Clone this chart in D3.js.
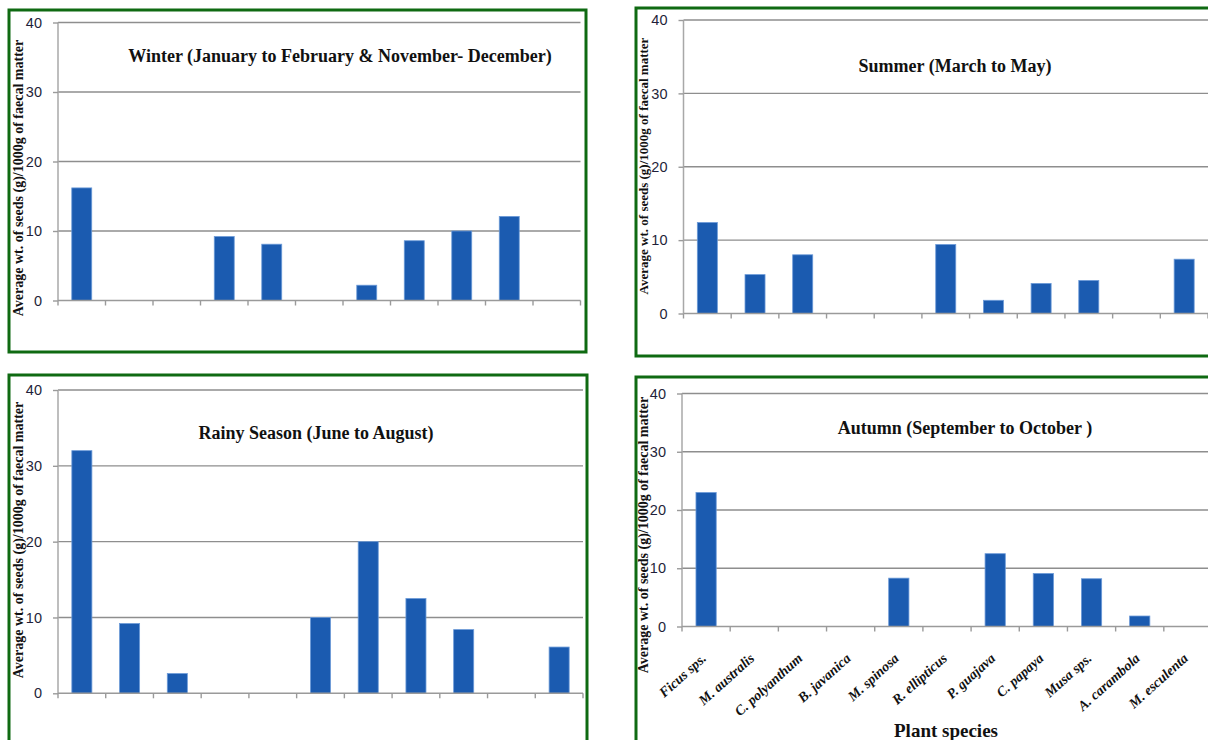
<!DOCTYPE html>
<html>
<head>
<meta charset="utf-8">
<script src="https://cdn.jsdelivr.net/npm/d3@7"></script>
<style>
  html, body { margin: 0; padding: 0; background: #ffffff; }
  svg { display: block; }
</style>
</head>
<body>
<svg id="chart" width="1208" height="740"></svg>
<script>
// Plant species (x categories, shared by all four seasonal panels)
const species = ["Ficus sps.", "M. australis", "C. polyanthum", "B. javanica", "M. spinosa",
  "R. ellipticus", "P. guajava", "C. papaya", "Musa sps.", "A. carambola", "M. esculenta"];

// Average wt. of seeds (g)/1000 g of faecal matter, per season
const winterValues = [16.2, 0, 0, 9.2, 8.1, 0, 2.2, 8.6, 10.0, 12.1, 0];
const summerValues = [12.4, 5.3, 8.0, 0, 0, 9.4, 1.8, 4.1, 4.5, 0, 7.4];
const rainyValues  = [32.0, 9.2, 2.6, 0, 0, 10.0, 20.0, 12.5, 8.4, 0, 6.1];
const autumnValues = [23.0, 0, 0, 0, 8.3, 0, 12.5, 9.1, 8.2, 1.8, 0];

const yTickValues = [0, 10, 20, 30, 40];

const seasonTitles = [
  "Winter (January to February & November- December)",
  "Summer (March to May)",
  "Rainy Season (June to August)",
  "Autumn (September to October )"
];
const yAxisTitle = "Average wt. of seeds (g)/1000g of faecal matter";
const xAxisTitle = "Plant species";

// Panel layout: frame box, plot box, title placement
const panels = [
  { values: winterValues, title: seasonTitles[0],
    frame: [9, 10, 577, 342], plot: { x0: 58, x1: 580.5, yTop: 22.5, yZero: 300.5 },
    titleX: 340, titleY: 62, yLabelX: 23, yLabelY: 178, yLabelSize: 14, showCats: false },
  { values: summerValues, title: seasonTitles[1],
    frame: [636, 8, 600, 348], plot: { x0: 683.5, x1: 1208, yTop: 20, yZero: 313.5 },
    titleX: 955, titleY: 72, yLabelX: 648, yLabelY: 166, yLabelSize: 13, showCats: false },
  { values: rainyValues, title: seasonTitles[2],
    frame: [9, 375, 578, 400], plot: { x0: 58, x1: 583, yTop: 390, yZero: 693.3 },
    titleX: 316, titleY: 439, yLabelX: 23, yLabelY: 540, yLabelSize: 14, showCats: false },
  { values: autumnValues, title: seasonTitles[3],
    frame: [636, 377, 600, 400], plot: { x0: 682, x1: 1212, yTop: 393.5, yZero: 626.5 },
    titleX: 965, titleY: 434, yLabelX: 648, yLabelY: 535, yLabelSize: 14, showCats: true }
];

const svg = d3.select("#chart");
const serif = "'Liberation Serif', 'Times New Roman', serif";
const sans = "'Liberation Sans', Arial, sans-serif";

panels.forEach(p => {
  const g = svg.append("g");
  const { x0, x1, yTop, yZero } = p.plot;

  const x = d3.scaleBand().domain(species).range([x0, x1])
    .paddingInner(0.58).paddingOuter(0.29);
  const y = d3.scaleLinear().domain([0, 40]).range([yZero, yTop]);
  const step = x.step();

  // gridlines
  g.append("g").selectAll("line").data(yTickValues.filter(v => v > 0)).join("line")
    .attr("x1", x0).attr("x2", x1)
    .attr("y1", d => y(d)).attr("y2", d => y(d))
    .attr("stroke", "#8e8e8e").attr("stroke-width", 1.4);

  // y axis with labels
  const yAxis = d3.axisLeft(y).tickValues(yTickValues).tickSize(5).tickPadding(11)
    .tickFormat(d3.format("d"));
  const ya = g.append("g").attr("transform", `translate(${x0},0)`).call(yAxis);
  ya.select(".domain").attr("stroke", "#a8a8a8").attr("stroke-width", 1.5)
    .attr("d", `M0,${yZero}V${yTop}`);
  ya.selectAll(".tick line").attr("stroke", "#9a9a9a").attr("stroke-width", 1.4);
  ya.selectAll(".tick text").attr("font-family", sans).attr("font-size", 14.5)
    .attr("fill", "#1f1f3a");

  // bars
  g.append("g").selectAll("rect").data(p.values.map((v, i) => ({ v, k: species[i] })))
    .join("rect")
    .attr("x", d => x(d.k)).attr("width", x.bandwidth())
    .attr("y", d => y(d.v)).attr("height", d => y(0) - y(d.v))
    .attr("fill", "#1b5bb0").attr("stroke", "#6c9ad8").attr("stroke-width", 0.8)
    .attr("visibility", d => d.v > 0 ? "visible" : "hidden");

  // x axis baseline and category boundary ticks
  g.append("line").attr("x1", x0).attr("x2", x1).attr("y1", yZero).attr("y2", yZero)
    .attr("stroke", "#9a9a9a").attr("stroke-width", 1.5);
  g.append("g").selectAll("line").data(d3.range(species.length + 1)).join("line")
    .attr("x1", i => x0 + i * step).attr("x2", i => x0 + i * step)
    .attr("y1", yZero).attr("y2", yZero + 5)
    .attr("stroke", "#9a9a9a").attr("stroke-width", 1.4);

  // category labels (bottom-right panel only)
  if (p.showCats) {
    g.append("g").selectAll("text").data(species).join("text")
      .attr("transform", d => `translate(${x(d) + x.bandwidth() / 2 + 1},${yZero + 33}) rotate(-42)`)
      .attr("text-anchor", "end")
      .attr("font-family", serif).attr("font-style", "italic").attr("font-weight", "bold")
      .attr("font-size", 14).attr("fill", "#111")
      .text(d => d);
    g.append("text").attr("x", 946).attr("y", 737)
      .attr("text-anchor", "middle")
      .attr("font-family", serif).attr("font-weight", "bold").attr("font-size", 19)
      .attr("fill", "#111").text(xAxisTitle);
  }

  // season title
  g.append("text").attr("x", p.titleX).attr("y", p.titleY)
    .attr("text-anchor", "middle")
    .attr("font-family", serif).attr("font-weight", "bold").attr("font-size", 18)
    .attr("fill", "#111").text(p.title);

  // y axis title
  g.append("text")
    .attr("transform", `translate(${p.yLabelX},${p.yLabelY}) rotate(-90)`)
    .attr("text-anchor", "middle")
    .attr("font-family", serif).attr("font-weight", "bold").attr("font-size", p.yLabelSize)
    .attr("fill", "#111").text(yAxisTitle);

  // green frame
  const [fx, fy, fw, fh] = p.frame;
  g.append("rect").attr("x", fx).attr("y", fy).attr("width", fw).attr("height", fh)
    .attr("fill", "none").attr("stroke", "#0f6a12").attr("stroke-width", 3);
});
</script>
</body>
</html>
